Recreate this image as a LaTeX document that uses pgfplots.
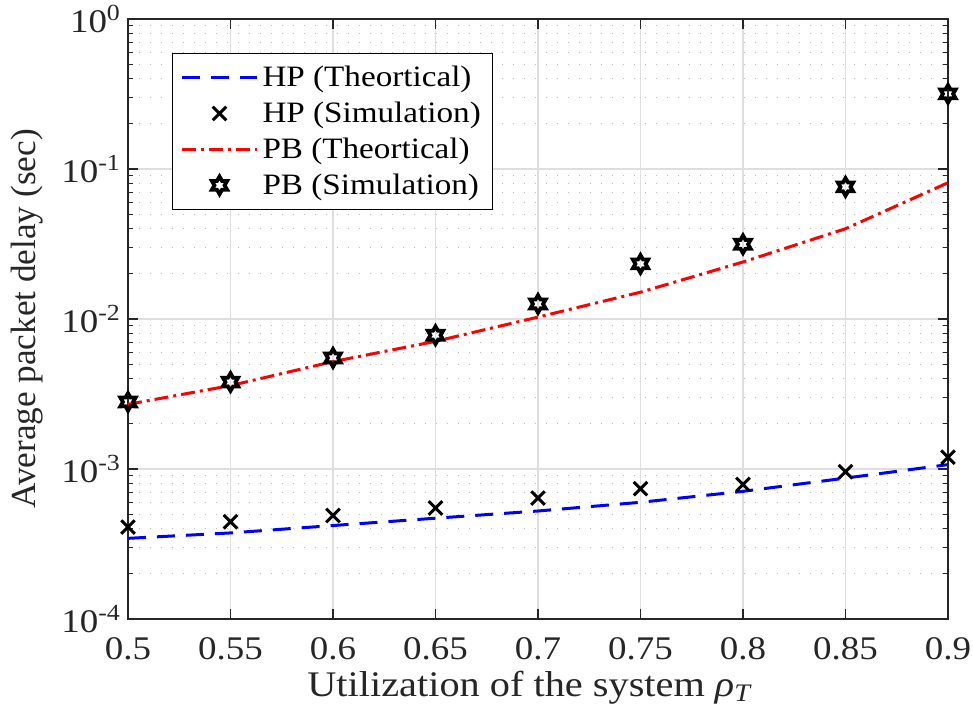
\documentclass[border=0pt]{standalone}
\usepackage{fontspec}
\setmainfont{Liberation Serif}[FakeStretch=1.12]
\newfontfamily\ylabfont{Liberation Serif}
\usepackage{pgfplots}
\pgfplotsset{compat=1.18}
\pgfdeclareplotmark{hexagram}{%
  \pgfpathmoveto{\pgfpointpolar{90}{\pgfplotmarksize}}%
  \pgfpathlineto{\pgfpointpolar{120}{0.577\pgfplotmarksize}}%
  \pgfpathlineto{\pgfpointpolar{150}{\pgfplotmarksize}}%
  \pgfpathlineto{\pgfpointpolar{180}{0.577\pgfplotmarksize}}%
  \pgfpathlineto{\pgfpointpolar{210}{\pgfplotmarksize}}%
  \pgfpathlineto{\pgfpointpolar{240}{0.577\pgfplotmarksize}}%
  \pgfpathlineto{\pgfpointpolar{270}{\pgfplotmarksize}}%
  \pgfpathlineto{\pgfpointpolar{300}{0.577\pgfplotmarksize}}%
  \pgfpathlineto{\pgfpointpolar{330}{\pgfplotmarksize}}%
  \pgfpathlineto{\pgfpointpolar{0}{0.577\pgfplotmarksize}}%
  \pgfpathlineto{\pgfpointpolar{30}{\pgfplotmarksize}}%
  \pgfpathlineto{\pgfpointpolar{60}{0.577\pgfplotmarksize}}%
  \pgfpathclose
  \pgfusepathqstroke
}
\definecolor{axgray}{RGB}{38,38,38}
\definecolor{gridmaj}{RGB}{222,222,222}
\definecolor{gridmin}{RGB}{185,185,185}
\begin{document}
\begin{tikzpicture}
\useasboundingbox (-64pt,-50pt) rectangle (422.5pt,309.5pt);
\begin{axis}[
  at={(0pt,0pt)}, anchor=south west,
  scale only axis, width=410pt, height=300pt,
  xmin=0.5, xmax=0.9, ymode=log, ymin=1e-4, ymax=1,
  xtick={0.5,0.55,0.6,0.65,0.7,0.75,0.8,0.85,0.9},
  xticklabels={0.5,0.55,0.6,0.65,0.7,0.75,0.8,0.85,0.9},
  ytick={1e-4,1e-3,1e-2,1e-1,1},
  yticklabels={10\textsuperscript{-4},10\textsuperscript{-3},10\textsuperscript{-2},10\textsuperscript{-1},10\textsuperscript{0}},
  minor ytick={2e-4,3e-4,4e-4,5e-4,6e-4,7e-4,8e-4,9e-4,
               2e-3,3e-3,4e-3,5e-3,6e-3,7e-3,8e-3,9e-3,
               2e-2,3e-2,4e-2,5e-2,6e-2,7e-2,8e-2,9e-2,
               2e-1,3e-1,4e-1,5e-1,6e-1,7e-1,8e-1,9e-1},
  tick align=inside,
  major tick length=5pt, minor tick length=2.5pt,
  every tick/.style={axgray, line width=0.6pt},
  axis line style={axgray, line width=0.75pt},
  xmajorgrids, ymajorgrids, yminorgrids,
  major grid style={gridmaj, line width=0.6pt},
  minor grid style={gridmin, line width=0.6pt, dash pattern=on 0.6pt off 4.9pt},
  tick label style={font=\fontsize{16.5}{19}\selectfont, text=axgray},
  xticklabel style={yshift=-5.5pt},
  xlabel style={font=\fontsize{18}{21}\selectfont, text=axgray, yshift=1pt, xshift=-4pt},
  ylabel style={font=\fontsize{17.6}{21}\selectfont, text=axgray},
  ylabel shift=2.5pt,
  xlabel={Utilization of the system \textit{ρ}\textsubscript{\textit{T}}},
  ylabel={\ylabfont Average packet delay (sec)},
  legend style={at={(0.0537,0.943)}, anchor=north west, draw=black, line width=0.5pt,
    fill=white, font=\fontsize{14.8}{18}\selectfont, row sep=2.2pt,
    inner xsep=4pt, inner ysep=4pt, cells={anchor=west}},
  legend image code/.code={\draw[mark repeat=2,mark phase=2,#1] plot coordinates {(0pt,0pt) (18.75pt,0pt) (37.5pt,0pt)};},
]
\addplot[blue, line width=1.5pt, dash pattern=on 9pt off 5.5pt] coordinates {
  (0.5,3.45e-4)(0.55,3.75e-4)(0.6,4.2e-4)(0.65,4.7e-4)(0.7,5.25e-4)
  (0.75,6.0e-4)(0.8,7.1e-4)(0.85,8.7e-4)(0.9,1.07e-3)};
\addlegendentry{HP (Theortical)}
\addplot[only marks, black, mark=x, mark size=4.8pt, line width=1.5pt] coordinates {
  (0.5,4.1e-4)(0.55,4.45e-4)(0.6,4.9e-4)(0.65,5.5e-4)(0.7,6.4e-4)
  (0.75,7.4e-4)(0.8,7.9e-4)(0.85,9.6e-4)(0.9,1.2e-3)};
\addlegendentry{HP (Simulation)}
\addplot[red, line width=1.5pt, dash pattern=on 7pt off 2.5pt on 1.5pt off 2.5pt] coordinates {
  (0.5,2.7e-3)(0.55,3.6e-3)(0.6,5.2e-3)(0.65,7.1e-3)(0.7,1.03e-2)
  (0.75,1.51e-2)(0.8,2.4e-2)(0.85,4.0e-2)(0.9,8.1e-2)};
\addlegendentry{PB (Theortical)}
\addplot[only marks, black, mark=hexagram, mark size=4.4pt, line width=1.9pt] coordinates {
  (0.5,2.8e-3)(0.55,3.8e-3)(0.6,5.5e-3)(0.65,7.8e-3)(0.7,1.26e-2)
  (0.75,2.33e-2)(0.8,3.15e-2)(0.85,7.6e-2)(0.9,0.317)};
\addlegendentry{PB (Simulation)}
\end{axis}
\end{tikzpicture}
\end{document}
